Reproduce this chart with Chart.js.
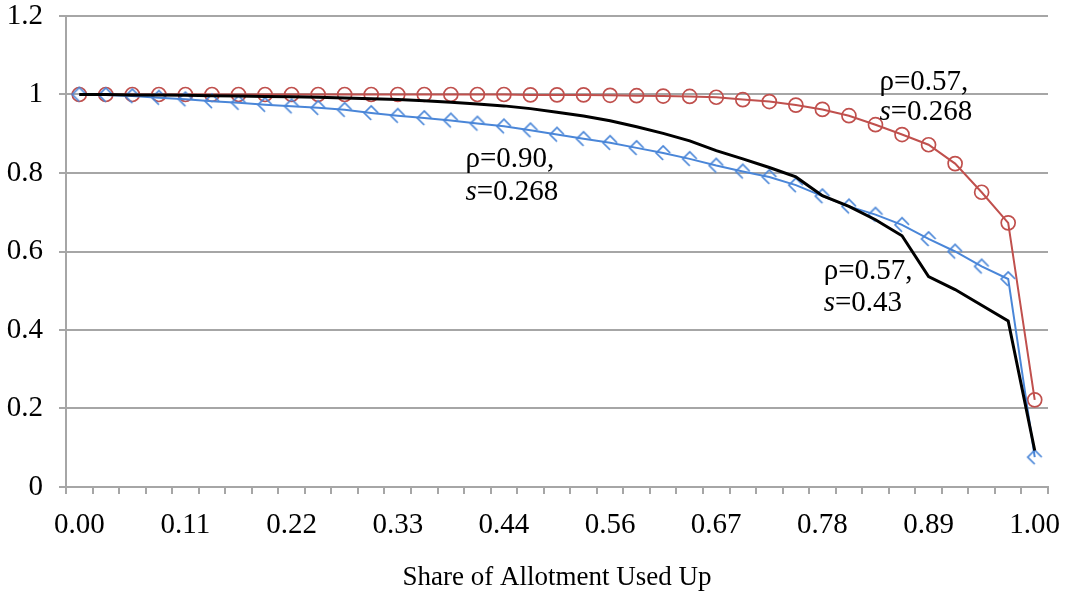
<!DOCTYPE html>
<html>
<head>
<meta charset="utf-8">
<script src="https://cdn.jsdelivr.net/npm/chart.js@4/dist/chart.umd.min.js"></script>
<style>
  html, body { margin: 0; padding: 0; background: #fff; }
  #wrap { width: 1065px; height: 596px; }
</style>
</head>
<body>
<div id="wrap"><canvas id="myChart" width="1065" height="596"></canvas></div>
<script>
// share of allotment used up (x categories)
let shares = ["0.00","0.03","0.06","0.08","0.11","0.14","0.17","0.19","0.22","0.25",
  "0.28","0.31","0.33","0.36","0.39","0.42","0.44","0.47","0.50","0.53",
  "0.56","0.58","0.61","0.64","0.67","0.69","0.72","0.75","0.78","0.81",
  "0.83","0.86","0.89","0.92","0.94","0.97","1.00"];

// rho=0.57, s=0.268 (red circles)
let redVals = [1.000,1.000,1.000,1.000,1.000,1.000,1.000,1.000,1.000,1.000,
  1.000,1.000,1.000,1.000,1.000,1.000,1.000,0.999,0.999,0.999,
  0.998,0.997,0.996,0.995,0.993,0.987,0.982,0.973,0.962,0.946,
  0.923,0.898,0.872,0.824,0.751,0.673,0.222];

// rho=0.90, s=0.268 (blue)
let blueVals = [1.000,0.999,0.996,0.992,0.988,0.983,0.979,0.974,0.970,0.966,
  0.961,0.953,0.946,0.940,0.934,0.926,0.919,0.909,0.898,0.887,
  0.877,0.864,0.851,0.836,0.819,0.804,0.790,0.769,0.741,0.715,
  0.694,0.668,0.632,0.600,0.562,0.530,0.076];

// rho=0.57, s=0.43 (black)
let blackVals = [1.000,1.000,0.999,0.999,0.998,0.997,0.996,0.995,0.994,0.993,
  0.991,0.989,0.987,0.984,0.980,0.976,0.971,0.964,0.955,0.945,
  0.933,0.918,0.901,0.882,0.857,0.836,0.814,0.790,0.742,0.715,
  0.681,0.640,0.536,0.503,0.463,0.423,0.093];

let yTicks = [0, 0.2, 0.4, 0.6, 0.8, 1, 1.2];

// curve labels, anchored on category index / value
let notes = [
  { rho: "ρ=0.90,", s: "=0.268", x: 14.55, y1: 0.835, y2: 0.75 },
  { rho: "ρ=0.57,", s: "=0.268", x: 30.15, y1: 1.03, y2: 0.955 },
  { rho: "ρ=0.57,", s: "=0.43", x: 28.05, y1: 0.55, y2: 0.468 }
];

const serif = "'Liberation Serif', 'Times New Roman', serif";
const gridGray = "#a6a6a6";

// open diamond-ish marker used by the blue series
function makeMarker() {
  let c = document.createElement("canvas");
  c.width = 18;
  c.height = 18;
  let g = c.getContext("2d");
  g.strokeStyle = "#4a86d8";
  g.lineWidth = 1.7;
  g.beginPath();
  g.moveTo(9, 16);
  g.lineTo(2, 9);
  g.lineTo(9, 2);
  g.lineTo(16, 9);
  g.stroke();
  return c;
}

const notesPlugin = {
  id: "notes",
  afterDatasetsDraw(chart) {
    let ctx = chart.ctx;
    let xs = chart.scales.x;
    let ys = chart.scales.y;
    ctx.save();
    ctx.fillStyle = "#000";
    ctx.textBaseline = "middle";
    ctx.textAlign = "left";
    notes.forEach(n => {
      let px = xs.getPixelForValue(n.x);
      ctx.font = "29px " + serif;
      ctx.fillText(n.rho, px, ys.getPixelForValue(n.y1));
      ctx.font = "italic 29px " + serif;
      ctx.fillText("s", px, ys.getPixelForValue(n.y2));
      let w = ctx.measureText("s").width;
      ctx.font = "29px " + serif;
      ctx.fillText(n.s, px + w, ys.getPixelForValue(n.y2));
    });
    ctx.restore();
  }
};

let ctx = document.getElementById("myChart").getContext("2d");

let myChart = new Chart(ctx, {
  type: "line",
  data: {
    labels: shares,
    datasets: [
      {
        label: "rho=0.57, s=0.268",
        data: redVals,
        borderColor: "#c0504d",
        borderWidth: 2,
        pointStyle: "circle",
        pointRadius: 7,
        pointBorderWidth: 1.7,
        pointBackgroundColor: "rgba(0,0,0,0)",
        pointBorderColor: "#c0504d",
        tension: 0,
        order: 3
      },
      {
        label: "rho=0.90, s=0.268",
        data: blueVals,
        borderColor: "#4a86d8",
        borderWidth: 2,
        pointStyle: makeMarker(),
        pointRadius: 7,
        tension: 0,
        order: 2
      },
      {
        label: "rho=0.57, s=0.43",
        data: blackVals,
        borderColor: "#000",
        borderWidth: 3,
        pointRadius: 0,
        tension: 0,
        order: 1
      }
    ]
  },
  options: {
    responsive: false,
    animation: false,
    layout: { padding: 0 },
    plugins: {
      legend: { display: false },
      tooltip: { enabled: false }
    },
    scales: {
      x: {
        offset: true,
        grid: {
          offset: true,
          drawOnChartArea: false,
          drawTicks: true,
          tickLength: 7,
          color: gridGray,
          lineWidth: 2
        },
        border: { color: gridGray, width: 2 },
        ticks: {
          autoSkip: false,
          maxRotation: 0,
          padding: 14,
          color: "#000",
          font: { family: serif, size: 29 },
          callback: function(val, i) {
            return i % 4 === 0 ? shares[i] : "";
          }
        },
        title: {
          display: true,
          text: "Share of Allotment Used Up",
          color: "#000",
          font: { family: serif, size: 27 },
          padding: { top: 14, bottom: 2 }
        },
        afterFit: function(scale) {
          scale.height = 109;
          scale.paddingLeft = 0;
          scale.paddingRight = 17;
        }
      },
      y: {
        min: 0,
        max: 1.2,
        afterBuildTicks: function(scale) {
          scale.ticks = yTicks.map(v => ({ value: v }));
        },
        grid: {
          color: gridGray,
          lineWidth: 2,
          drawTicks: true,
          tickLength: 7
        },
        border: { color: gridGray, width: 2 },
        ticks: {
          padding: 16,
          color: "#000",
          font: { family: serif, size: 29 },
          callback: function(v) {
            return String(Math.round(v * 10) / 10);
          }
        },
        afterFit: function(scale) {
          scale.width = 66;
          scale.paddingTop = 16;
          scale.paddingBottom = 0;
        }
      }
    }
  },
  plugins: [notesPlugin]
});
</script>
</body>
</html>
